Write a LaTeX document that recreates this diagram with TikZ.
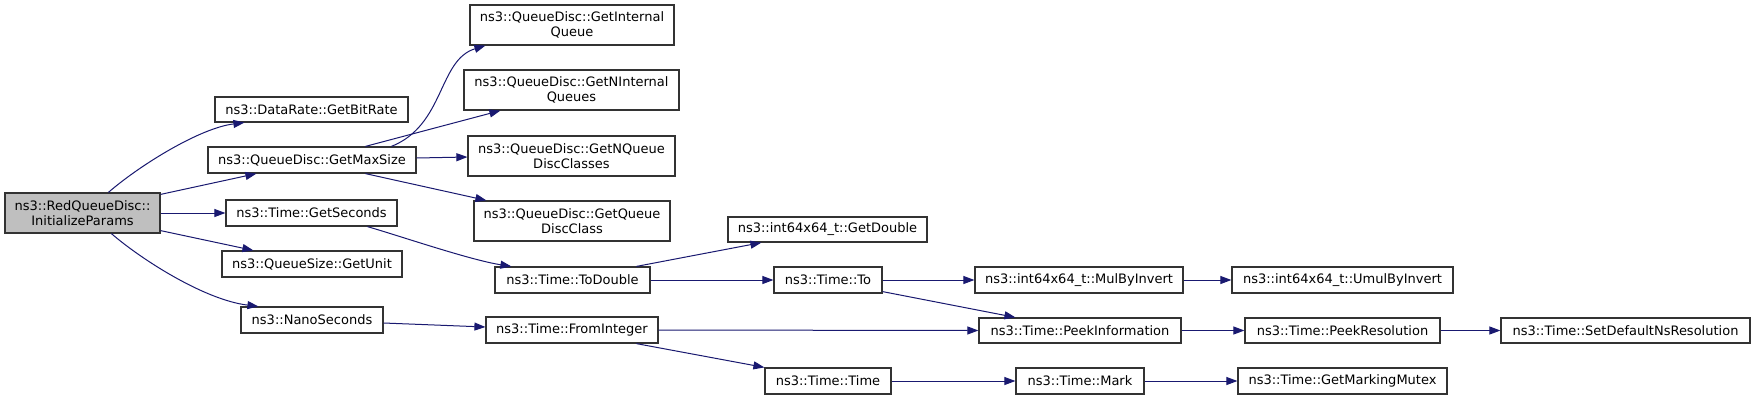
\documentclass[tikz,border=0pt]{standalone}
\usepackage{fontspec}
\setmainfont{DejaVu Sans}
\usetikzlibrary{arrows.meta,calc}
\definecolor{edgeblue}{HTML}{191970}
\definecolor{mainfill}{HTML}{BFBFBF}
\definecolor{boxline}{HTML}{333333}
\begin{document}
\begin{tikzpicture}[x=1pt,y=-1pt,
  fn/.style={draw=boxline,line width=1.2pt,fill=white,inner sep=0pt,minimum height=26pt,
    align=center,font=\fontsize{13}{15}\selectfont},
  fn2/.style={fn,minimum height=40pt},
  call/.style={draw=edgeblue,line width=1pt,-{Triangle[length=11pt,width=8pt]}}]
\useasboundingbox (0,0) rectangle (1755,400);
\fill[white] (0,0) rectangle (1755,400);
% nodes
\node[fn2,fill=mainfill,minimum width=155pt] (main) at (82.5,213) {ns3::RedQueueDisc::\\InitializeParams};
\node[fn,minimum width=193pt,minimum height=25pt] (bitrate) at (311.5,109.5) {ns3::DataRate::GetBitRate};
\node[fn,minimum width=208pt] (maxsize) at (312,160) {ns3::QueueDisc::GetMaxSize};
\node[fn,minimum width=171pt] (getsec) at (311.5,213) {ns3::Time::GetSeconds};
\node[fn,minimum width=180pt] (getunit) at (312,264) {ns3::QueueSize::GetUnit};
\node[fn,minimum width=142pt] (nano) at (312,320) {ns3::NanoSeconds};
\node[fn2,minimum width=204pt] (intq) at (572,25) {ns3::QueueDisc::GetInternal\\Queue};
\node[fn2,minimum width=215pt] (ninq) at (571.5,90) {ns3::QueueDisc::GetNInternal\\Queues};
\node[fn2,minimum width=207pt] (nqdc) at (571.5,156) {ns3::QueueDisc::GetNQueue\\DiscClasses};
\node[fn2,minimum width=196pt] (gqdc) at (572,221) {ns3::QueueDisc::GetQueue\\DiscClass};
\node[fn,minimum width=155pt] (todouble) at (572.5,280) {ns3::Time::ToDouble};
\node[fn,minimum width=172pt] (fromint) at (572,330) {ns3::Time::FromInteger};
\node[fn,minimum width=199pt,minimum height=25pt] (getdouble) at (827.5,229.5) {ns3::int64x64\_t::GetDouble};
\node[fn,minimum width=108pt] (to) at (828,280) {ns3::Time::To};
\node[fn,minimum width=126pt] (ttime) at (828,381) {ns3::Time::Time};
\node[fn,minimum width=208pt] (mul) at (1079,280) {ns3::int64x64\_t::MulByInvert};
\node[fn,minimum width=202pt,minimum height=25pt] (peek) at (1080,330.5) {ns3::Time::PeekInformation};
\node[fn,minimum width=128pt] (mark) at (1080,381) {ns3::Time::Mark};
\node[fn,minimum width=221pt] (umul) at (1342.5,280) {ns3::int64x64\_t::UmulByInvert};
\node[fn,minimum width=195pt,minimum height=25pt] (peekres) at (1342.5,330.5) {ns3::Time::PeekResolution};
\node[fn,minimum width=249pt,minimum height=25pt] (setdef) at (1625.5,330.5) {ns3::Time::SetDefaultNsResolution};
\node[fn,minimum width=209pt] (mutex) at (1342.5,381) {ns3::Time::GetMarkingMutex};
% edges
\draw[call] ($(main.north west)+(104,0)$) .. controls (140,165) and (200,128) .. ($(bitrate.south west)+(30,0)$);
\draw[call] ($(main.north east)+(0,2)$) -- ($(maxsize.south west)+(49,0)$);
\draw[call] (main.east) -- (getsec.west);
\draw[call] ($(main.south east)+(0,-3)$) -- ($(getunit.north west)+(32,0)$);
\draw[call] ($(main.south west)+(107,0)$) .. controls (142,260) and (205,300) .. ($(nano.north west)+(18,0)$);
\draw[call] ($(maxsize.north west)+(184,0)$) .. controls (445,125) and (438,60) .. ($(intq.south west)+(16,0)$);
\draw[call] ($(maxsize.north west)+(158,0)$) -- ($(ninq.south west)+(37,0)$);
\draw[call] ($(maxsize.east)+(0,-2)$) -- ($(nqdc.west)+(0,1)$);
\draw[call] ($(maxsize.south west)+(158,0)$) -- ($(gqdc.north west)+(13,0)$);
\draw[call] ($(getsec.south west)+(142,0)$) .. controls (400,236) and (470,260) .. ($(todouble.north west)+(17,0)$);
\draw[call] ($(nano.east)+(0,3)$) -- ($(fromint.west)+(0,-3)$);
\draw[call] ($(todouble.north west)+(142,0)$) -- ($(getdouble.south west)+(34,0)$);
\draw[call] (todouble.east) -- (to.west);
\draw[call] (to.east) -- (mul.west);
\draw[call] ($(to.south east)+(0,-2)$) -- ($(peek.north west)+(37,0)$);
\draw[call] (fromint.east) -- (peek.west);
\draw[call] ($(fromint.south west)+(151,0)$) -- (ttime.north west);
\draw[call] (ttime.east) -- (mark.west);
\draw[call] (mul.east) -- (umul.west);
\draw[call] (peek.east) -- (peekres.west);
\draw[call] (peekres.east) -- (setdef.west);
\draw[call] (mark.east) -- (mutex.west);
\end{tikzpicture}
\end{document}
